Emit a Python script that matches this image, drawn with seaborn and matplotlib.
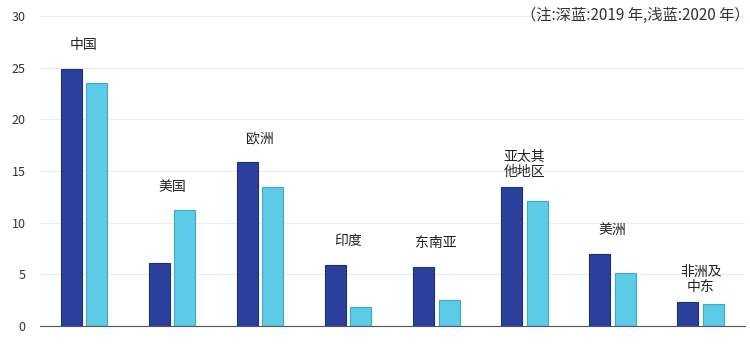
import matplotlib
matplotlib.use("Agg")
import matplotlib.pyplot as plt
import seaborn as sns
import pandas as pd
import numpy as np

regions = ["中国", "美国", "欧洲", "印度", "东南亚", "亚太其\n他地区", "美洲", "非洲及\n中东"]
years = ["2019年", "2020年"]
v2019 = [24.9, 6.1, 15.9, 5.9, 5.7, 13.4, 7.0, 2.3]
v2020 = [23.5, 11.2, 13.4, 1.8, 2.5, 12.1, 5.1, 2.1]
yticks = [0, 5, 10, 15, 20, 25, 30]
note = "（注:深蓝:2019 年,浅蓝:2020 年）"

df = pd.DataFrame({
    "region": regions * 2,
    "year": [years[0]] * len(regions) + [years[1]] * len(regions),
    "value": v2019 + v2020,
})

sns.set_theme(style="white")
plt.rcParams["font.family"] = ["Noto Sans CJK SC", "DejaVu Sans"]

fig = plt.figure(figsize=(7.5, 3.45), dpi=100)
ax = fig.add_axes([0.053, 0.055, 0.94, 0.899])

palette = {years[0]: "#2a409c", years[1]: "#5ccbe8"}
sns.barplot(data=df, x="region", y="value", hue="year", order=regions,
            hue_order=years, palette=palette, width=0.58, gap=0.18,
            saturation=1, legend=False, ax=ax)

edge = {0: "#1e2f7a", 1: "#3fa8c4"}
for i, cont in enumerate(ax.containers):
    for p in cont:
        p.set_edgecolor(edge[i])
        p.set_linewidth(0.8)

ax.set_xlim(-0.5, len(regions) - 0.5)
ax.set_ylim(0, 30)
ax.set_yticks(yticks)
ax.set_yticklabels([str(t) for t in yticks], fontsize=9, color="#333333")
ax.yaxis.grid(True, color="#ececec", linewidth=0.8)
ax.set_axisbelow(True)
for s in ["left", "right", "top"]:
    ax.spines[s].set_visible(False)
ax.spines["bottom"].set_color("#555555")
ax.spines["bottom"].set_linewidth(0.8)
ax.tick_params(axis="y", length=0, pad=10)

ax.set_xticks(np.arange(len(regions)))
ax.set_xticklabels([])
ax.tick_params(axis="x", which="major", length=0)
ax.set_xticks(np.arange(-0.5, len(regions), 1.0), minor=True)
ax.tick_params(axis="x", which="minor", length=5, width=0.8, color="#555555", direction="out")
ax.set_xlabel("")
ax.set_ylabel("")

for i, r in enumerate(regions):
    top = max(v2019[i], v2020[i])
    off = 6 if "\n" in r else 12
    ax.annotate(r, xy=(i, top), xytext=(0, off), textcoords="offset points",
                ha="center", va="bottom", fontsize=10, color="#222222",
                linespacing=1.1)

fig.text(1.0, 0.955, note, ha="right", va="center", fontsize=11, color="#333333")

fig.savefig("out.png", dpi=100)
